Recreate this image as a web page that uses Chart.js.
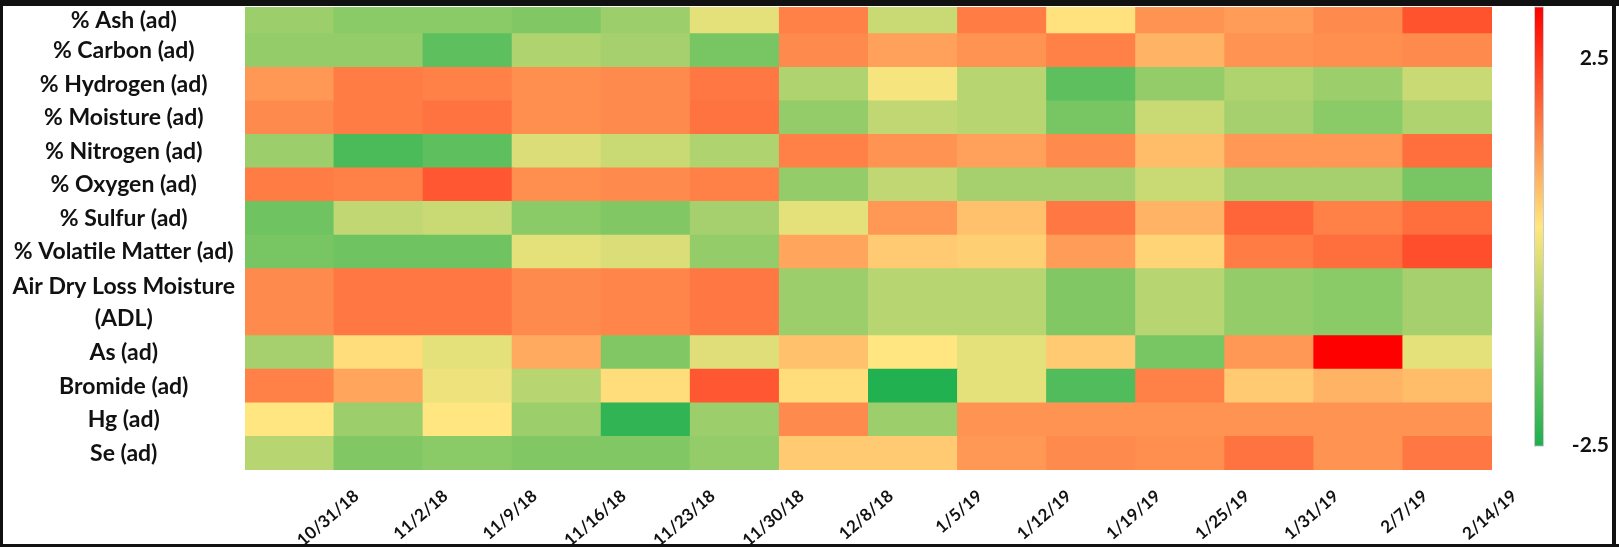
<!DOCTYPE html>
<html>
<head>
<meta charset="utf-8">
<title>Coal quality heatmap</title>
<script src="https://cdn.jsdelivr.net/npm/chart.js@4.4.1/dist/chart.umd.min.js"></script>
<style>
  html, body { margin: 0; padding: 0; background: #fff; }
  #wrap { position: relative; width: 1619px; height: 547px; }
</style>
</head>
<body>
<div id="wrap"><canvas id="heat" width="1619" height="547"></canvas></div>
<script>
// Sample dates (columns)
const dates = ['10/31/18', '11/2/18', '11/9/18', '11/16/18', '11/23/18', '11/30/18', '12/8/18',
               '1/5/19', '1/12/19', '1/19/19', '1/25/19', '1/31/19', '2/7/19', '2/14/19'];

// Parameter names (rows)
const parameters = ['% Ash (ad)', '% Carbon (ad)', '% Hydrogen (ad)', '% Moisture (ad)', '% Nitrogen (ad)',
                    '% Oxygen (ad)', '% Sulfur (ad)', '% Volatile Matter (ad)',
                    ['Air Dry Loss Moisture', '(ADL)'], 'As (ad)', 'Bromide (ad)', 'Hg (ad)', 'Se (ad)'];

// Standardised values per parameter, one entry per date
const ash      = [-1.1, -1.3, -1.3, -1.4, -1.1, -0.3, 1.1, -0.6, 1.15, 0.05, 0.9, 0.8, 1.0, 1.6];
const carbon   = [-1.2, -1.2, -1.8, -0.9, -1.0, -1.5, 1.0, 0.75, 0.9, 1.1, 0.55, 0.9, 0.95, 1.0];
const hydrogen = [0.85, 1.15, 1.1, 0.95, 1.0, 1.2, -0.9, -0.1, -0.8, -1.8, -1.2, -0.9, -1.1, -0.6];
const moisture = [1.0, 1.15, 1.25, 0.95, 1.0, 1.25, -1.2, -0.7, -0.8, -1.5, -0.6, -1.0, -1.3, -0.9];
const nitrogen = [-1.1, -2.0, -1.8, -0.4, -0.6, -0.9, 1.1, 0.9, 0.75, 1.0, 0.45, 0.85, 0.85, 1.3];
const oxygen   = [1.15, 1.1, 1.55, 0.95, 1.0, 1.1, -1.2, -0.7, -1.0, -1.0, -0.6, -1.0, -1.0, -1.5];
const sulfur   = [-1.6, -0.7, -0.6, -1.3, -1.4, -1.0, -0.3, 0.85, 0.4, 1.2, 0.55, 1.4, 1.1, 1.3];
const volatile = [-1.5, -1.6, -1.6, -0.3, -0.4, -1.2, 0.7, 0.3, 0.25, 0.8, 0.2, 1.15, 1.3, 1.65];
const adl      = [1.0, 1.2, 1.2, 1.0, 1.05, 1.2, -1.1, -0.8, -0.8, -1.4, -0.8, -1.2, -1.3, -1.0];
const arsenic  = [-1.0, 0.1, -0.3, 0.65, -1.4, -0.35, 0.4, 0.0, -0.3, 0.3, -1.5, 0.85, 2.5, -0.3];
const bromide  = [1.1, 0.7, -0.2, -0.8, 0.1, 1.55, 0.1, -2.45, -0.3, -1.95, 1.1, 0.3, 0.55, 0.45];
const mercury  = [0.0, -1.1, 0.0, -1.1, -2.3, -1.1, 1.0, -1.1, 0.9, 0.9, 0.9, 0.9, 0.9, 0.9];
const selenium = [-0.8, -1.4, -1.3, -1.4, -1.4, -1.2, 0.3, 0.3, 0.85, 1.0, 0.95, 1.25, 0.9, 1.2];

// Colour scale end labels (top, bottom)
const scaleLabels = ['2.5', '-2.5'];

const rows = [ash, carbon, hydrogen, moisture, nitrogen, oxygen, sulfur, volatile,
              adl, arsenic, bromide, mercury, selenium];

// ---- layout: the two-line ADL row is twice as tall as the others ----
const rowUnits = parameters.map(p => Array.isArray(p) ? 2 : 1);
const rowTop = [];
rowUnits.reduce((acc, u, i) => { rowTop[i] = acc; return acc + u; }, 0);
const totalUnits = rowUnits.reduce((a, b) => a + b, 0);
const yStart = 0.2;          // the top row is partly cut by the frame
const LIMIT = 2.5;

// green -> yellow -> red diverging scale
const GREEN = [30, 176, 80], YELLOW = [255, 230, 128], RED = [255, 0, 0];
function colorFor(v) {
  const t = Math.max(-1, Math.min(1, v / LIMIT));
  const end = t < 0 ? GREEN : RED;
  const f = Math.abs(t);
  const c = YELLOW.map((y, k) => Math.round(y + (end[k] - y) * f));
  return `rgb(${c[0]},${c[1]},${c[2]})`;
}

const cells = [];
rows.forEach((vals, r) => {
  vals.forEach((v, c) => {
    cells.push({ x: c + 0.5, y: [rowTop[r], rowTop[r] + rowUnits[r]], v });
  });
});

const FONT = 'Lato, "Open Sans", "DejaVu Sans", sans-serif';

const frameAndLegend = {
  id: 'frameAndLegend',
  afterDraw(chart) {
    const ctx = chart.ctx;
    const area = chart.chartArea;
    ctx.save();
    // colour bar
    const bx = 1535, bw = 8, by0 = area.top, by1 = 446;
    const grad = ctx.createLinearGradient(0, by0, 0, by1);
    for (let i = 0; i <= 20; i++) {
      grad.addColorStop(i / 20, colorFor(LIMIT - (2 * LIMIT) * i / 20));
    }
    ctx.fillStyle = grad;
    ctx.fillRect(bx, by0, bw, by1 - by0);
    ctx.strokeStyle = 'rgba(190,190,190,0.8)';
    ctx.lineWidth = 1;
    ctx.strokeRect(bx - 0.5, by0, bw + 1, by1 - by0);
    ctx.fillStyle = '#111';
    ctx.font = `bold 21px ${FONT}`;
    ctx.textAlign = 'right';
    ctx.textBaseline = 'middle';
    ctx.fillText(scaleLabels[0], 1609, 58);
    ctx.fillText(scaleLabels[1], 1609, 445);
    // outer frame
    ctx.fillStyle = '#111';
    ctx.fillRect(0, 0, 1619, 6);
    ctx.fillRect(0, 0, 3, 547);
    ctx.fillRect(1612, 0, 4, 547);
    ctx.fillRect(0, 544, 1619, 3);
    ctx.restore();
  }
};

new Chart(document.getElementById('heat'), {
  type: 'bar',
  data: {
    datasets: [{
      data: cells,
      backgroundColor: ctx => colorFor(ctx.raw.v),
      borderWidth: 0,
      barPercentage: 1,
      categoryPercentage: 1,
      inflateAmount: 0.5
    }]
  },
  plugins: [frameAndLegend],
  options: {
    responsive: false,
    animation: false,
    events: [],
    layout: { padding: { left: 0, right: 127, top: 7, bottom: 0 } },
    plugins: { legend: { display: false }, tooltip: { enabled: false } },
    scales: {
      x: {
        type: 'linear',
        position: 'bottom',
        offset: false,
        min: 0,
        max: dates.length,
        grid: { display: false, offset: false },
        border: { display: false },
        afterBuildTicks: s => { s.ticks = dates.map((d, i) => ({ value: i + 1.25 })); },
        afterFit: s => { s.height = 77; s.paddingLeft = 0; s.paddingRight = 0; },
        ticks: {
          autoSkip: false,
          minRotation: 41,
          maxRotation: 41,
          padding: 8,
          color: '#111',
          font: { family: FONT, size: 17, weight: 'bold' },
          callback: (v, i) => dates[i]
        }
      },
      y: {
        type: 'linear',
        reverse: true,
        min: yStart,
        max: totalUnits,
        grid: { display: false },
        border: { display: false },
        afterBuildTicks: s => {
          s.ticks = parameters.map((p, i) => ({
            value: i === 0 ? (yStart + rowUnits[0]) / 2 : rowTop[i] + rowUnits[i] / 2
          }));
        },
        afterFit: s => { s.width = 245; s.paddingTop = 0; s.paddingBottom = 0; },
        ticks: {
          autoSkip: false,
          crossAlign: 'center',
          padding: 2,
          color: '#111',
          font: { family: FONT, size: 23, weight: 'bold', lineHeight: 1.4 },
          callback: (v, i) => parameters[i]
        }
      }
    }
  }
});
</script>
</body>
</html>
